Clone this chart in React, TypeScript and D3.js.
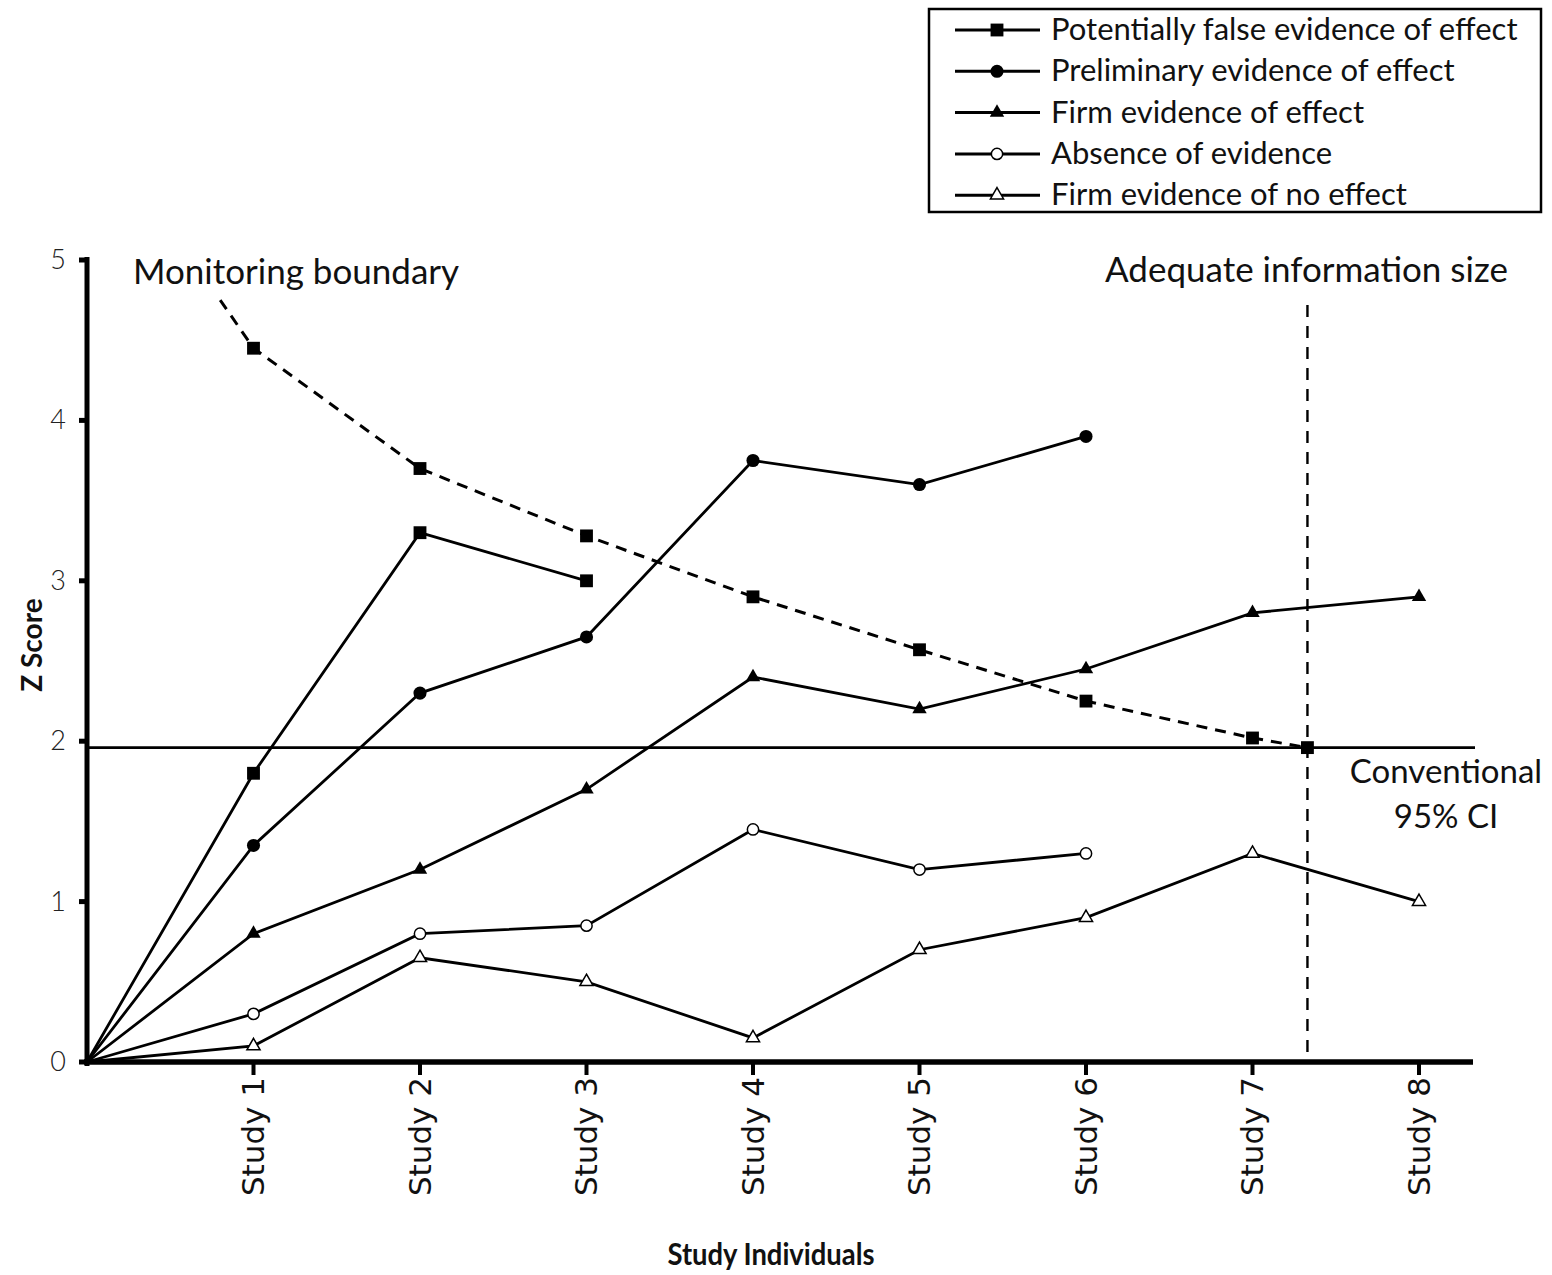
import React from "react";
import * as d3 from "d3";

// study index 0 = origin, 1..8 = Study 1..8
const studyLabels = ["Study 1", "Study 2", "Study 3", "Study 4", "Study 5", "Study 6", "Study 7", "Study 8"];
const yTicks = [0, 1, 2, 3, 4, 5];

const falseEvidence = [0, 1.8, 3.3, 3.0];
const preliminary = [0, 1.35, 2.3, 2.65, 3.75, 3.6, 3.9];
const firmEffect = [0, 0.8, 1.2, 1.7, 2.4, 2.2, 2.45, 2.8, 2.9];
const absence = [0, 0.3, 0.8, 0.85, 1.45, 1.2, 1.3];
const firmNoEffect = [0, 0.1, 0.65, 0.5, 0.15, 0.7, 0.9, 1.3, 1.0];

// monitoring boundary: study index, z, has marker
const boundaryX = [0.8, 1, 2, 3, 4, 5, 6, 7, 7.33];
const boundaryZ = [4.75, 4.45, 3.7, 3.28, 2.9, 2.57, 2.25, 2.02, 1.96];
const boundaryMarker = [false, true, true, true, true, true, true, true, true];

const conventionalZ = 1.96;
const adequateInfoX = 7.33;

const legendItems = [
  { label: "Potentially false evidence of effect", symbol: "square", filled: true },
  { label: "Preliminary evidence of effect", symbol: "circle", filled: true },
  { label: "Firm evidence of effect", symbol: "triangle", filled: true },
  { label: "Absence of evidence", symbol: "circle", filled: false },
  { label: "Firm evidence of no effect", symbol: "triangle", filled: false },
];

const seriesList = [
  { values: falseEvidence, symbol: "square", filled: true },
  { values: preliminary, symbol: "circle", filled: true },
  { values: firmEffect, symbol: "triangle", filled: true },
  { values: absence, symbol: "circle", filled: false },
  { values: firmNoEffect, symbol: "triangle", filled: false },
];

const W = 1552;
const H = 1275;
const x0 = 87;
const yZero = 1062;

const FONT = "Lato, 'Open Sans', sans-serif";

function symbolPath(kind: string, filled: boolean) {
  if (kind === "square") return d3.symbol(d3.symbolSquare, 165)();
  if (kind === "circle") return d3.symbol(d3.symbolCircle, filled ? 135 : 100)();
  return d3.symbol(d3.symbolTriangle, filled ? 90 : 75)();
}

export default function App() {
  const x = d3.scaleLinear().domain([0, 8]).range([x0, 1419]);
  const y = d3.scaleLinear().domain([0, 5]).range([yZero, 260]);

  const line = d3
    .line<number>()
    .x((d, i) => x(i))
    .y((d) => y(d));

  const boundaryLine = d3
    .line<number>()
    .x((d, i) => x(boundaryX[i]))
    .y((d) => y(d));

  return (
    <svg
      width={W}
      height={H}
      style={{ position: "absolute", left: 0, top: 0, background: "#fff" }}
      fontFamily={FONT}
    >
      {/* legend */}
      <g>
        <rect x={929} y={9} width={612} height={203} fill="#fff" stroke="#000" strokeWidth={2.5} />
        {legendItems.map((d, i) => {
          const ly = 30 + i * 41.3;
          return (
            <g key={d.label}>
              <line x1={955} x2={1040} y1={ly} y2={ly} stroke="#000" strokeWidth={3} />
              <path
                d={symbolPath(d.symbol, d.filled) || ""}
                transform={`translate(${997},${ly})`}
                fill={d.filled ? "#000" : "#fff"}
                stroke="#000"
                strokeWidth={d.filled ? 0 : 1.5}
              />
              <text x={1051} y={ly + 10} fontSize={31} fill="#111">
                {d.label}
              </text>
            </g>
          );
        })}
      </g>

      {/* conventional 95% CI line */}
      <line x1={x0} x2={1475} y1={y(conventionalZ)} y2={y(conventionalZ)} stroke="#000" strokeWidth={2.8} />

      {/* adequate information size */}
      <line
        x1={x(adequateInfoX)}
        x2={x(adequateInfoX)}
        y1={305}
        y2={yZero}
        stroke="#000"
        strokeWidth={2.4}
        strokeDasharray="12,9"
      />

      {/* monitoring boundary */}
      <path d={boundaryLine(boundaryZ) || ""} fill="none" stroke="#000" strokeWidth={3} strokeDasharray="11,8" />
      {boundaryZ.map((z, i) =>
        boundaryMarker[i] ? (
          <path
            key={i}
            d={symbolPath("square", true) || ""}
            transform={`translate(${x(boundaryX[i])},${y(z)})`}
            fill="#000"
          />
        ) : null
      )}

      {/* series */}
      {seriesList.map((s, si) => (
        <g key={si}>
          <path d={line(s.values) || ""} fill="none" stroke="#000" strokeWidth={2.8} />
          {s.values.map((v, i) =>
            i === 0 ? null : (
              <path
                key={i}
                d={symbolPath(s.symbol, s.filled) || ""}
                transform={`translate(${x(i)},${y(v)})`}
                fill={s.filled ? "#000" : "#fff"}
                stroke="#000"
                strokeWidth={s.filled ? 0 : 1.5}
              />
            )
          )}
        </g>
      ))}

      {/* y axis */}
      <line x1={x0} x2={x0} y1={257} y2={1066} stroke="#000" strokeWidth={5} />
      {yTicks.map((t) => (
        <g key={t}>
          <line x1={x0 - 8} x2={x0} y1={y(t)} y2={y(t)} stroke="#000" strokeWidth={5} />
          <text x={66} y={y(t) + 9} textAnchor="end" fontSize={27} fontWeight={300} fill="#222">
            {t}
          </text>
        </g>
      ))}

      {/* x axis */}
      <line x1={x0 - 3} x2={1473} y1={yZero} y2={yZero} stroke="#000" strokeWidth={5.5} />
      {studyLabels.map((lab, i) => {
        const tx = x(i + 1);
        return (
          <g key={lab}>
            <line x1={tx} x2={tx} y1={yZero} y2={yZero + 13} stroke="#000" strokeWidth={4} />
            <text
              transform={`translate(${tx + 10.5},${1077}) rotate(-90)`}
              textAnchor="end"
              fontSize={31}
              fontFamily="'DejaVu Sans', sans-serif"
              fill="#111"
            >
              {lab}
            </text>
          </g>
        );
      })}

      {/* annotations */}
      <text x={133} y={284} fontSize={35} fill="#111">
        Monitoring boundary
      </text>
      <text x={1105} y={282} fontSize={35} fill="#111">
        Adequate information size
      </text>
      <text x={1446} y={783} fontSize={33} textAnchor="middle" fill="#111">
        Conventional
      </text>
      <text x={1446} y={828} fontSize={33} textAnchor="middle" fill="#111">
        95% CI
      </text>

      {/* axis titles */}
      <text
        x={771}
        y={1265}
        textAnchor="middle"
        fontSize={30}
        fontWeight="bold"
        fill="#111"
        textLength={207}
        lengthAdjust="spacingAndGlyphs"
      >
        Study Individuals
      </text>
      <text
        transform={`translate(${42},${645}) rotate(-90)`}
        textAnchor="middle"
        fontSize={28}
        fontWeight="bold"
        fill="#111"
      >
        Z Score
      </text>
    </svg>
  );
}
